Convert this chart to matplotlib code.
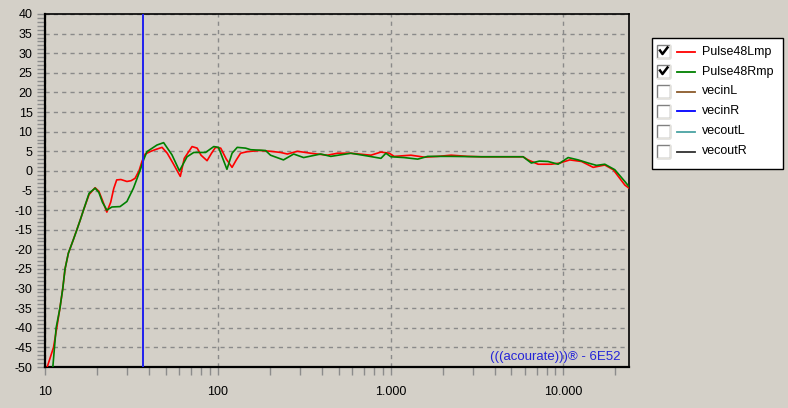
'''
Acourate frequency response view: Pulse48Lmp / Pulse48Rmp
'''

import matplotlib
matplotlib.use('Agg')
import matplotlib.pyplot as plt
from matplotlib.lines import Line2D
from matplotlib.patches import Rectangle
from matplotlib.ticker import FixedLocator, MultipleLocator, NullFormatter

W, H = 788, 408
BG = '#d4d0c8'

# frequency response, left channel (Hz, dB)
left_freq = [10.3, 11.2, 11.7, 12.2, 12.67, 13.06, 13.65, 14.6, 16.0, 16.7,
             18.0, 19.5, 20.5, 21.5, 22.8, 24.0, 25.0, 26.0, 27.5, 29.8,
             31.5, 33.2, 35.0, 36.4, 38.0, 41.0, 44.0, 47.6, 51.0, 55.0,
             60.7, 64.0, 71.0, 76.0, 80.0, 86.7, 92.0, 97.0, 104.0, 112.0,
             121.0, 128.0, 135.5, 148.0, 175.0, 202, 231, 253, 289, 345,
             431, 493, 589, 770, 880, 984, 1050, 1313, 1570, 1877,
             2243, 2800, 3350, 4375, 5850, 6250, 7145, 8530, 9530, 10900,
             12740, 14890, 17380, 19450, 22700, 24000]
left_db = [-50, -45, -40, -35, -30, -25, -21, -17.5, -12.5, -10,
           -6.0, -4.3, -5.2, -7.5, -10.5, -8.0, -4.5, -2.3, -2.2, -2.7,
           -2.5, -1.9, 0.0, 2.4, 4.3, 5.0, 5.5, 6.0, 4.5, 2.0,
           -1.4, 3.2, 6.2, 5.8, 4.0, 2.6, 4.5, 6.0, 5.8, 3.0,
           0.9, 2.8, 4.5, 4.9, 5.2, 5.0, 4.7, 4.3, 5.0, 4.5,
           4.0, 4.5, 4.5, 4.0, 4.8, 4.5, 3.7, 4.0, 3.5, 3.7,
           4.0, 3.7, 3.6, 3.6, 3.6, 2.8, 1.7, 1.7, 2.0, 2.8,
           2.4, 0.9, 1.5, 0.3, -3.6, -4.4]

# frequency response, right channel (Hz, dB)
right_freq = [11.1, 11.6, 12.2, 12.67, 13.06, 13.65, 14.6, 15.3, 16.0, 16.7,
              18.0, 19.5, 20.5, 21.5, 22.8, 24.4, 27.2, 29.8, 32.5, 35.6,
              37.2, 38.9, 44.5, 48.6, 54.3, 60, 66.4, 72.6, 85, 94.8,
              101, 113, 121, 129.6, 144.9, 155, 189, 202, 240, 275,
              314, 394, 451, 589, 736, 880, 940, 1005, 1196, 1437,
              1641, 2243, 3350, 4375, 5850, 6530, 7265, 8160, 9330, 10670,
              12190, 13940, 15570, 17380, 19860, 22700, 24000]
right_db = [-50, -40, -35, -30, -25, -21, -17.5, -15, -12.5, -10,
            -5.7, -4.4, -5.5, -8.0, -10.0, -9.2, -9.1, -7.8, -4.4, 0.25,
            2.8, 4.9, 6.6, 7.2, 4.1, 0.0, 3.6, 4.7, 4.7, 6.2,
            6.0, 0.4, 4.5, 6.0, 5.8, 5.4, 5.2, 4.0, 2.8, 4.3,
            3.4, 4.3, 3.7, 4.5, 3.8, 3.2, 4.5, 3.6, 3.4, 3.0,
            3.7, 3.7, 3.6, 3.6, 3.6, 2.0, 2.5, 2.4, 1.7, 3.4,
            2.8, 2.0, 1.4, 1.7, 0.3, -2.7, -4.0]

marker_freq = 37.0

legend_names = ['Pulse48Lmp', 'Pulse48Rmp', 'vecinL', 'vecinR', 'vecoutL', 'vecoutR']
legend_colors = ['#ff0000', '#008000', '#8b5a2b', '#0000ff', '#4aa3a3', '#303030']
legend_checked = [True, True, False, False, False, False]

x_major = [10, 100, 1000, 10000]
x_labels = ['10', '100', '1.000', '10.000']
x_minor = [m * d for d in (10, 100, 1000) for m in range(2, 10)] + [20000]


def px(x, y):
    '''pixel position -> figure fraction'''
    return x / W, 1 - y / H


plt.rcParams['font.family'] = ['Liberation Sans', 'DejaVu Sans']
plt.rcParams['axes.unicode_minus'] = False

fig = plt.figure(figsize=(W / 100, H / 100), dpi=100, facecolor=BG)
ax = fig.add_axes([45 / W, 1 - 367 / H, (629 - 45) / W, (367 - 14) / H])
ax.set_facecolor(BG)

ax.plot(left_freq, left_db, color='#ff0000', lw=1.2, zorder=3)
ax.plot(right_freq, right_db, color='#008000', lw=1.2, zorder=3)
ax.axvline(marker_freq, color='#2020f0', lw=1.4, zorder=4)

ax.set_xscale('log')
ax.set_xlim(10, 24000)
ax.set_ylim(-50, 40)

ax.xaxis.set_major_locator(FixedLocator(x_major))
ax.set_xticklabels(x_labels)
ax.xaxis.set_minor_locator(FixedLocator(x_minor))
ax.xaxis.set_minor_formatter(NullFormatter())
ax.yaxis.set_major_locator(MultipleLocator(5))
ax.yaxis.set_minor_locator(MultipleLocator(1))

ax.tick_params(axis='both', which='both', direction='out', color='#8c8c8c',
               width=1, labelsize=9, labelcolor='black')
ax.tick_params(axis='x', which='both', length=6, pad=8)
ax.tick_params(axis='y', which='both', length=5.5, pad=3.5)

ax.grid(True, which='major', color='#8a8a8a', lw=1, ls=(0, (3, 3)))
for sp in ax.spines.values():
    sp.set_linewidth(1.6)
    sp.set_color('black')
ax.spines['right'].set_linewidth(1.2)
ax.spines['top'].set_linewidth(1.2)

ax.text(0.985, 0.012, '(((acourate)))® - 6E52', transform=ax.transAxes,
        ha='right', va='bottom', fontsize=9.5, color='#2424d8')

# legend panel with check boxes
x0, y0 = px(652, 169)
x1, y1 = px(783, 38)
fig.add_artist(Rectangle((x0, y0), x1 - x0, y1 - y0, transform=fig.transFigure,
                         facecolor='white', edgecolor='black', lw=1))

for i, name in enumerate(legend_names):
    yc = 51.5 + 20 * i
    bx, by = px(657, yc + 6.5)
    bw, bh = 13 / W, 13 / H
    fig.add_artist(Rectangle((bx, by), bw, bh, transform=fig.transFigure,
                             facecolor='white', edgecolor='#808080', lw=1))
    fig.add_artist(Line2D([bx + bw, bx + bw, bx], [by + bh, by, by],
                          transform=fig.transFigure, color='#e4e2dc', lw=1))
    if legend_checked[i]:
        cx = [660, 662.5, 667.5]
        cy = [yc - 1, yc + 2.5, yc - 4]
        fig.add_artist(Line2D([c / W for c in cx], [1 - c / H for c in cy],
                              transform=fig.transFigure, color='black', lw=1.8))
    lx0, ly = px(677, yc)
    lx1, _ = px(695, yc)
    fig.add_artist(Line2D([lx0, lx1], [ly, ly], transform=fig.transFigure,
                          color=legend_colors[i], lw=1.3))
    tx, ty = px(702, yc)
    fig.text(tx, ty, name, fontsize=9, va='center', ha='left', color='black')

fig.savefig('out.png', dpi=100, facecolor=BG)
